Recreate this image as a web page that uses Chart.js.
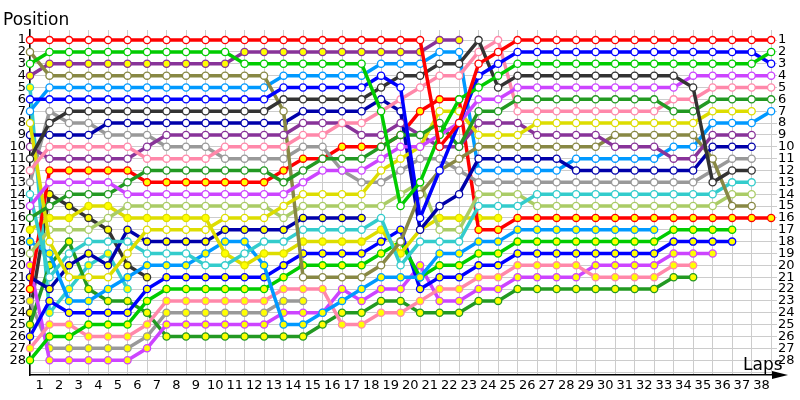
<!DOCTYPE html>
<html>
<head>
<meta charset="utf-8">
<script src="https://cdn.jsdelivr.net/npm/chart.js@4.4.1/dist/chart.umd.min.js"></script>
<style>
  body { margin: 0; background: #fff; }
</style>
</head>
<body>
<canvas id="lap-chart" width="800" height="400"></canvas>
<script>
const lapLabels = ['1','2','3','4','5','6','7','8','9','10','11','12','13','14','15','16','17','18','19',
  '20','21','22','23','24','25','26','27','28','29','30','31','32','33','34','35','36','37','38'];
const posLabels = ['1','2','3','4','5','6','7','8','9','10','11','12','13','14',
  '15','16','17','18','19','20','21','22','23','24','25','26','27','28'];

// position of each car per lap, index 0 = grid. W = white markers, Y = yellow markers
const redW = [1,1,1,1,1,1,1,1,1,1, 1,1,1,1,1,1,1,1,1,1, 1,10,8,3,2,1,1,1,1,1, 1,1,1,1,1,1,1,1,1];
const greenW = [3,2,2,2,2,2,2,2,2,2, 2,3,3,3,3,3,3,3,7,15, 13,9,6,5,4,3,3,3,3,3, 3,3,3,3,3,3,3,3,2];
const blueW = [6,6,6,6,6,6,6,6,6,6, 6,6,6,5,5,5,5,5,4,5, 16,12,8,4,3,2,2,2,2,2, 2,2,2,2,2,2,2,2,3];
const darkgrayW = [11,8,7,7,7,7,7,7,7,7, 7,7,7,6,6,6,6,6,5,4, 4,3,3,1,5,4,4,4,4,4, 4,4,4,4,5,13,12,12];
const violetW = [15,13,13,13,13,14,14,14,14,14, 14,14,14,14,13,12,12,12,11,10, 10,9,8,6,6,5,5,5,5,5, 5,5,5,5,4,4,4,4,4];
const darkgreenW = [16,15,14,14,14,13,12,12,12,12, 12,12,12,13,12,11,11,11,10,9, 9,8,10,7,7,6,6,6,6,6, 6,6,6,7,7,6,6,6,6];
const pinkW = [12,10,10,10,10,10,11,11,11,11, 10,10,10,10,9,9,8,8,7,6, 5,4,4,2,1,7,7,7,7,7, 7,7,7,6,6,5,5,5,5];
const yellowW = [8,18,21,21,21,19,17,17,17,17, 16,16,16,15,14,14,14,14,12,11, 10,7,7,9,9,9,8,8,8,8, 8,8,8,8,8,7,7,7];
const purpleW = [10,11,11,11,11,11,10,9,9,9, 9,9,9,9,8,8,8,9,9,8, 9,10,10,8,8,8,9,9,9,9, 10,10,10,11,11,9,9,9];
const oliveW = [2,4,4,4,4,4,4,4,4,4, 4,4,4,7,21,21,21,21,20,18, 14,12,11,10,10,10,10,10,10,10, 9,9,9,9,9,11,15,15];
const navyW = [9,9,9,9,8,8,8,8,8,8, 8,8,8,8,7,7,7,7,6,7, 17,15,14,11,11,11,11,11,12,12, 12,12,12,12,12,10,10,10];
const lightblueW = [7,5,5,5,5,5,5,5,5,5, 5,5,5,4,4,4,4,4,3,3, 3,2,2,12,12,12,12,12,11,11, 11,11,11,10,10,8,8,8,7];
const grayW = [13,7,8,8,9,9,9,10,10,10, 11,11,11,11,10,10,12,13,13,12, 11,11,12,13,13,13,13,13,13,13, 13,13,13,13,13,12,11,11];
const cyanW = [14,21,19,18,18,18,19,19,19,20, 20,19,18,18,17,17,17,17,16,20, 18,18,18,15,15,15,14,14,14,14, 14,14,14,14,14,14,13,13];
const yellowgreenW = [19,17,17,17,16,15,15,15,15,15, 15,15,15,16,15,15,15,15,15,14, 13,17,17,14,14,14,15,15,15,15, 15,15,15,15,15,15,14,14];

const purpleY = [4,3,3,3,3,3,3,3,3,3, 3,2,2,2,2,2,2,2,2,2, 2,1,1];
const redY = [22,12,12,12,12,12,13,13,13,13, 13,13,13,12,11,11,10,10,10,9, 7,6,6,17,17,16,16,16,16,16, 16,16,16,16,16,16,16,16,16];
const yellowY = [17,16,16,15,15,16,16,16,16,16, 19,20,19,19,18,18,18,18,17,19, 17,16,16,16,16];
const lightblueY = [18,19,23,23,22,21,20,20,20,19, 18,18,20,25,25,24,23,22,21,21, 21,19,19,18,18,17,17,17,17,17, 17,17,17];
const greenY = [28,26,26,25,25,25,23,22,22,22, 22,22,22,21,20,20,20,20,19,18, 21,20,20,19,19,18,18,18,18,18, 18,18,18,17,17,17,17];
const blueY = [26,23,24,24,24,24,22,21,21,21, 21,21,21,20,19,19,19,19,18,17, 22,21,21,20,20,19,19,19,19,19, 19,19,19,18,18,18,18];
const navyY = [21,22,20,19,20,17,18,18,18,18, 17,17,17,17,16,16,16,16];
const pinkY = [27,25,25,26,26,26,25,23,23,23, 23,23,23,22,22,22,25,25,24,24, 23,22,22,21,21,20,20,20,20,21, 21,21,21,20,20];
const violetY = [20,28,28,28,28,28,27,25,25,25, 25,25,25,24,24,24,22,23,22,22, 20,23,23,22,22,21,21,21,21,20, 20,20,20,19,19,19];
const darkgreenY = [25,20,18,22,23,23,24,26,26,26, 26,26,26,26,26,25,24,24,23,23, 24,24,24,23,23,22,22,22,22,22, 22,22,22,21,21];
const cyanY = [5,24,22,20,19,22];
const grayY = [23,27,27,27,27,27,26,24,24,24, 24,24,24,23,23];
const darkgrayY = [24,14,15,16,17,20,21];

const WHITE = '#ffffff';
const YELLOW = '#ffff00';

const cars = [
  [redW, '#ff0000', WHITE], [greenW, '#00cc00', WHITE], [blueW, '#0000ff', WHITE],
  [darkgrayW, '#333333', WHITE], [violetW, '#cc44ff', WHITE], [darkgreenW, '#229922', WHITE],
  [pinkW, '#ff88aa', WHITE], [yellowW, '#dddd00', WHITE], [purpleW, '#883399', WHITE],
  [oliveW, '#888844', WHITE], [navyW, '#0000aa', WHITE], [lightblueW, '#0099ff', WHITE],
  [grayW, '#999999', WHITE], [cyanW, '#33cccc', WHITE], [yellowgreenW, '#aacc66', WHITE],
  [purpleY, '#883399', YELLOW], [redY, '#ff0000', YELLOW], [yellowY, '#dddd00', YELLOW],
  [lightblueY, '#0099ff', YELLOW], [greenY, '#00cc00', YELLOW], [blueY, '#0000ff', YELLOW],
  [navyY, '#0000aa', YELLOW], [pinkY, '#ff88aa', YELLOW], [violetY, '#cc44ff', YELLOW],
  [darkgreenY, '#229922', YELLOW], [cyanY, '#33cccc', YELLOW], [grayY, '#999999', YELLOW],
  [darkgrayY, '#333333', YELLOW]
];

const tickFont = { family: 'DejaVu Sans', size: 13 };

// "Position" / "Laps" captions and the arrow on the lap axis
const axisText = {
  id: 'axisText',
  afterDraw(chart) {
    const { ctx, chartArea: a } = chart;
    ctx.save();
    ctx.fillStyle = '#000';
    ctx.strokeStyle = '#000';
    ctx.font = '17px "DejaVu Sans"';
    ctx.fillText('Position', 3, 25);
    ctx.fillText('Laps', 743, 370);
    ctx.lineWidth = 1.5;
    ctx.beginPath();
    ctx.moveTo(a.right, a.bottom);
    ctx.lineTo(782, a.bottom);
    ctx.stroke();
    ctx.beginPath();
    ctx.moveTo(788, a.bottom);
    ctx.lineTo(772, a.bottom - 4);
    ctx.lineTo(772, a.bottom + 4);
    ctx.closePath();
    ctx.fill();
    ctx.restore();
  }
};

new Chart(document.getElementById('lap-chart').getContext('2d'), {
  type: 'line',
  data: {
    datasets: cars.map(([pos, color, fill]) => ({
      data: pos.map((p, lap) => ({ x: lap, y: p })),
      borderColor: color,
      backgroundColor: fill,
      pointBackgroundColor: fill,
      pointBorderColor: color,
      borderWidth: 3.5,
      pointRadius: 3.6,
      pointBorderWidth: 1.3,
      tension: 0,
      clip: false
    }))
  },
  options: {
    responsive: false,
    animation: false,
    layout: { padding: { top: 30, left: 0, right: 0, bottom: 0 } },
    plugins: { legend: { display: false }, tooltip: { enabled: false } },
    scales: {
      x: {
        type: 'linear',
        min: 0,
        max: 38.3,
        afterBuildTicks: axis => {
          const t = [];
          for (let i = 0; i <= lapLabels.length; i++) {
            t.push({ value: i });
            if (i < lapLabels.length) t.push({ value: i + 0.5 });
          }
          axis.ticks = t;
        },
        afterFit: axis => { axis.height = 25; },
        grid: {
          color: c => Number.isInteger(c.tick.value) ? '#cccccc' : 'rgba(0,0,0,0)',
          drawTicks: false
        },
        border: { color: '#000', width: 1.5 },
        ticks: {
          autoSkip: false, maxRotation: 0, minRotation: 0, padding: 3,
          color: '#000', font: tickFont,
          callback: v => Number.isInteger(v) ? '' : lapLabels[v - 0.5]
        }
      },
      y: {
        type: 'linear',
        reverse: true,
        min: 0.15,
        max: 29.25,
        position: 'left',
        afterBuildTicks: axis => {
          axis.ticks = posLabels.map((l, i) => ({ value: i + 1 })).concat([{ value: 29 }]);
        },
        afterFit: axis => { axis.width = 30; },
        grid: { color: '#cccccc', drawTicks: false },
        border: { color: '#000', width: 1.5 },
        ticks: {
          autoSkip: false, padding: 4, color: '#000', font: tickFont,
          callback: v => posLabels[v - 1] || ''
        }
      },
      y2: {
        type: 'linear',
        reverse: true,
        min: 0.15,
        max: 29.25,
        position: 'right',
        afterBuildTicks: axis => {
          axis.ticks = posLabels.map((l, i) => ({ value: i + 1 }));
        },
        afterFit: axis => { axis.width = 23; },
        grid: { display: false, drawTicks: false },
        border: { display: false },
        ticks: {
          autoSkip: false, padding: 1, color: '#000', font: tickFont,
          callback: v => posLabels[v - 1] || ''
        }
      }
    }
  },
  plugins: [axisText]
});
</script>
</body>
</html>
